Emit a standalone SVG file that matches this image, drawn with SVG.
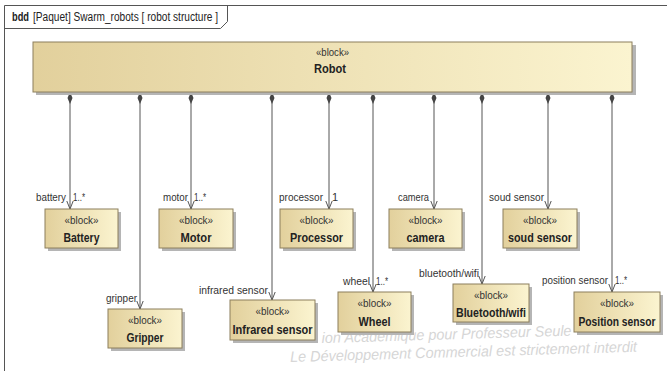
<svg xmlns="http://www.w3.org/2000/svg" width="667" height="371" viewBox="0 0 667 371">
<style>
.frame{fill:none;stroke:#555;stroke-width:1}
.blk{fill:url(#g);stroke:#8c7f5c;stroke-width:1}
.shd{fill:#b5b5b5}
.st{font-family:"Liberation Sans",Arial,sans-serif;font-size:11px;fill:#333;text-anchor:middle}
.nm{font-family:"Liberation Sans",Arial,sans-serif;font-size:13px;font-weight:bold;fill:#222;text-anchor:middle}
.lb{font-family:"Liberation Sans",Arial,sans-serif;font-size:11px;fill:#333}
.ln{fill:none;stroke:#555;stroke-width:1;marker-start:url(#dia);marker-end:url(#arr)}
.wm{font-family:"Liberation Sans",Arial,sans-serif;font-size:15px;font-style:italic;fill:#d6d6d6}
.tt{font-family:"Liberation Sans",Arial,sans-serif;font-size:12px;fill:#222}
</style>
<defs>
<linearGradient id="g" x1="0" y1="0" x2="1" y2="0">
<stop offset="0" stop-color="#e2d09c"/>
<stop offset="1" stop-color="#fbf4d0"/>
</linearGradient>
<marker id="dia" viewBox="0 0 12 6" refX="0" refY="3" markerWidth="12" markerHeight="6" orient="auto" markerUnits="userSpaceOnUse">
<path d="M0,3 L6,0.5 L12,3 L6,5.5 Z" fill="#444"/>
</marker>
<marker id="arr" viewBox="0 0 8 8" refX="8" refY="4" markerWidth="8" markerHeight="8" orient="auto" markerUnits="userSpaceOnUse">
<path d="M0,0.8 L8,4 L0,7.2" fill="none" stroke="#555" stroke-width="1"/>
</marker>
</defs>
<rect width="667" height="371" fill="#fff"/>
<g id="watermark">
<text class="wm" x="322" y="339" transform="rotate(-1.7 460 350)" textLength="250" lengthAdjust="spacingAndGlyphs">ion Académique pour Professeur Seule</text>
<text class="wm" x="290" y="357" transform="rotate(-1.7 460 350)" textLength="347" lengthAdjust="spacingAndGlyphs">Le Développement Commercial est strictement interdit</text>
</g>
<g id="frame">
<path class="frame" d="M4.5,371 V5.5 H667"/>
<path class="frame" d="M4.5,28.5 H220.5 L227.5,21.5 V5.5"/>
<text class="tt" x="12" y="21" font-weight="bold" textLength="17" lengthAdjust="spacingAndGlyphs">bdd</text>
<text class="tt" x="33" y="21" textLength="185" lengthAdjust="spacingAndGlyphs">[Paquet] Swarm_robots [ robot structure ]</text>
</g>
<g id="connectors">
<path class="ln" d="M70,92 V209"/>
<path class="ln" d="M140,92 V309"/>
<path class="ln" d="M191,92 V209"/>
<path class="ln" d="M272,92 V300"/>
<path class="ln" d="M329,92 V209"/>
<path class="ln" d="M373,92 V292"/>
<path class="ln" d="M434,92 V209"/>
<path class="ln" d="M482,92 V284"/>
<path class="ln" d="M548,92 V209"/>
<path class="ln" d="M612,92 V292"/>
<text class="lb" x="36" y="201" textLength="30" lengthAdjust="spacingAndGlyphs">battery</text><text class="lb" x="73" y="201" textLength="12" lengthAdjust="spacingAndGlyphs">1..*</text>
<text class="lb" x="163" y="201" textLength="25" lengthAdjust="spacingAndGlyphs">motor</text><text class="lb" x="194" y="201" textLength="12" lengthAdjust="spacingAndGlyphs">1..*</text>
<text class="lb" x="279" y="201" textLength="44" lengthAdjust="spacingAndGlyphs">processor</text><text class="lb" x="332" y="201">1</text>
<text class="lb" x="398" y="201" textLength="31" lengthAdjust="spacingAndGlyphs">camera</text>
<text class="lb" x="489" y="201" textLength="55" lengthAdjust="spacingAndGlyphs">soud sensor</text>
<text class="lb" x="106" y="302" textLength="31" lengthAdjust="spacingAndGlyphs">gripper</text>
<text class="lb" x="199" y="294" textLength="69" lengthAdjust="spacingAndGlyphs">infrared sensor</text>
<text class="lb" x="343" y="285" textLength="27" lengthAdjust="spacingAndGlyphs">wheel</text><text class="lb" x="376" y="285" textLength="12" lengthAdjust="spacingAndGlyphs">1..*</text>
<text class="lb" x="419" y="277" textLength="60" lengthAdjust="spacingAndGlyphs">bluetooth/wifi</text>
<text class="lb" x="542" y="284" textLength="66" lengthAdjust="spacingAndGlyphs">position sensor</text><text class="lb" x="615" y="284" textLength="12" lengthAdjust="spacingAndGlyphs">1..*</text>
</g>
<g id="robot">
<rect class="shd" x="36" y="45" width="600" height="50"/>
<rect class="blk" x="33" y="42" width="599" height="50"/>
<text class="st" x="332.5" y="56" textLength="33" lengthAdjust="spacingAndGlyphs">«block»</text>
<text class="nm" x="330" y="73" textLength="32" lengthAdjust="spacingAndGlyphs">Robot</text>
</g>
<g id="battery">
<rect class="shd" x="48" y="212" width="73" height="39"/>
<rect class="blk" x="45" y="209" width="73" height="39"/>
<text class="st" x="81.5" y="224" textLength="34" lengthAdjust="spacingAndGlyphs">«block»</text>
<text class="nm" x="81.5" y="242" textLength="36" lengthAdjust="spacingAndGlyphs">Battery</text>
</g>
<g id="motor">
<rect class="shd" x="162" y="212" width="74" height="39"/>
<rect class="blk" x="159" y="209" width="74" height="39"/>
<text class="st" x="196" y="224" textLength="34" lengthAdjust="spacingAndGlyphs">«block»</text>
<text class="nm" x="196" y="242" textLength="31" lengthAdjust="spacingAndGlyphs">Motor</text>
</g>
<g id="processor">
<rect class="shd" x="283" y="212" width="73" height="39"/>
<rect class="blk" x="280" y="209" width="73" height="39"/>
<text class="st" x="316.5" y="224" textLength="34" lengthAdjust="spacingAndGlyphs">«block»</text>
<text class="nm" x="316.5" y="242" textLength="53" lengthAdjust="spacingAndGlyphs">Processor</text>
</g>
<g id="camera">
<rect class="shd" x="392" y="212" width="73" height="39"/>
<rect class="blk" x="389" y="209" width="73" height="39"/>
<text class="st" x="425.5" y="224" textLength="34" lengthAdjust="spacingAndGlyphs">«block»</text>
<text class="nm" x="425.5" y="242" textLength="38" lengthAdjust="spacingAndGlyphs">camera</text>
</g>
<g id="soud-sensor">
<rect class="shd" x="506" y="212" width="74" height="39"/>
<rect class="blk" x="503" y="209" width="74" height="39"/>
<text class="st" x="540" y="224" textLength="34" lengthAdjust="spacingAndGlyphs">«block»</text>
<text class="nm" x="540" y="242" textLength="64" lengthAdjust="spacingAndGlyphs">soud sensor</text>
</g>
<g id="gripper">
<rect class="shd" x="111" y="312" width="74" height="39"/>
<rect class="blk" x="108" y="309" width="74" height="39"/>
<text class="st" x="145" y="324" textLength="34" lengthAdjust="spacingAndGlyphs">«block»</text>
<text class="nm" x="145" y="342" textLength="37" lengthAdjust="spacingAndGlyphs">Gripper</text>
</g>
<g id="infrared-sensor">
<rect class="shd" x="233" y="303" width="85" height="40"/>
<rect class="blk" x="230" y="300" width="85" height="40"/>
<text class="st" x="272.5" y="315" textLength="34" lengthAdjust="spacingAndGlyphs">«block»</text>
<text class="nm" x="272.5" y="334" textLength="80" lengthAdjust="spacingAndGlyphs">Infrared sensor</text>
</g>
<g id="wheel">
<rect class="shd" x="341" y="295" width="73" height="40"/>
<rect class="blk" x="338" y="292" width="73" height="40"/>
<text class="st" x="374.5" y="307" textLength="34" lengthAdjust="spacingAndGlyphs">«block»</text>
<text class="nm" x="374.5" y="326" textLength="32" lengthAdjust="spacingAndGlyphs">Wheel</text>
</g>
<g id="bluetooth-wifi">
<rect class="shd" x="456" y="287" width="76" height="38"/>
<rect class="blk" x="453" y="284" width="76" height="38"/>
<text class="st" x="491" y="299" textLength="34" lengthAdjust="spacingAndGlyphs">«block»</text>
<text class="nm" x="491" y="317" textLength="70" lengthAdjust="spacingAndGlyphs">Bluetooth/wifi</text>
</g>
<g id="position-sensor">
<rect class="shd" x="577" y="295" width="86" height="40"/>
<rect class="blk" x="574" y="292" width="86" height="40"/>
<text class="st" x="617" y="307" textLength="34" lengthAdjust="spacingAndGlyphs">«block»</text>
<text class="nm" x="617" y="326" font-size="12" textLength="77" lengthAdjust="spacingAndGlyphs">Position sensor</text>
</g>
</svg>
